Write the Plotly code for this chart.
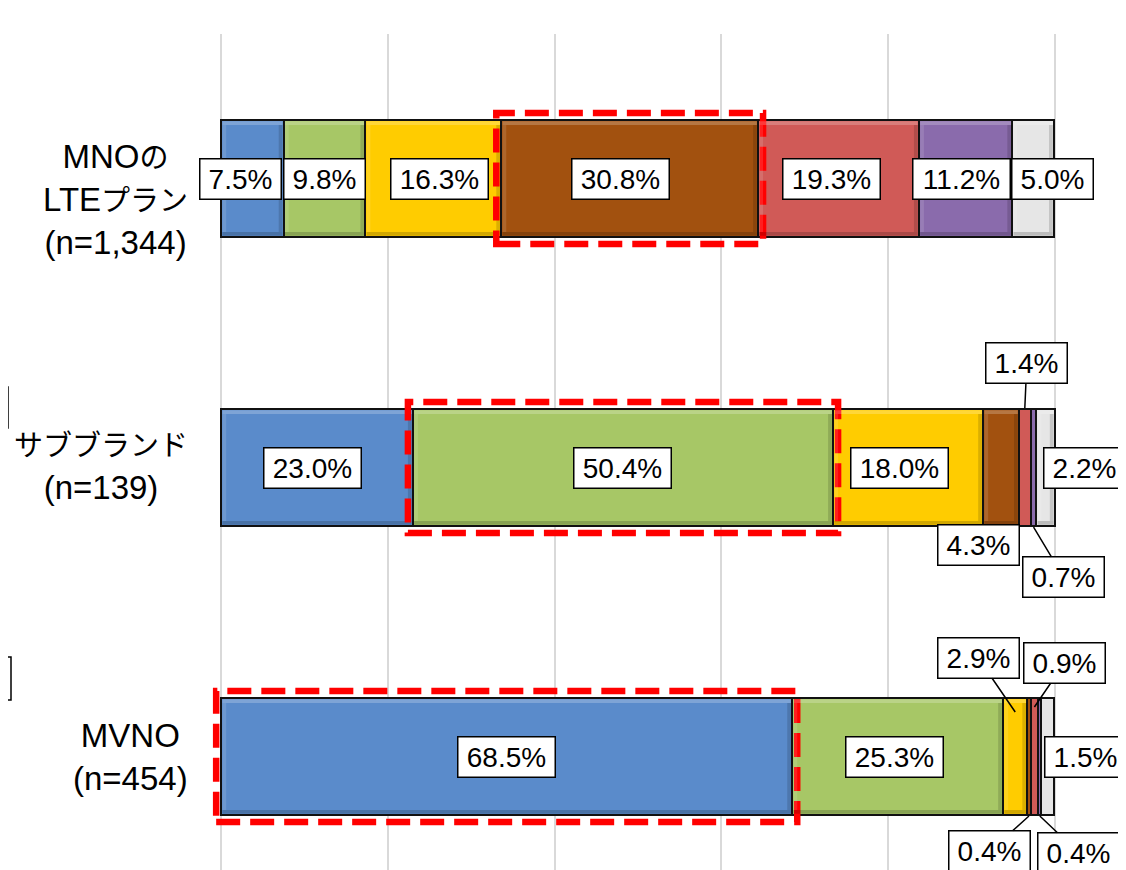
import plotly.graph_objects as go

# ---------------- data ----------------
categories = [
    "MNO<span style='font-size:29px'>の</span><br>LTE<span style='font-size:29px'>プラン</span><br>(n=1,344)",
    "<span style='font-size:29px'>サブブランド</span><br>(n=139)",
    "MVNO<br>(n=454)",
]
series_names = ["区分1", "区分2", "区分3", "区分4", "区分5", "区分6", "区分7"]
mno_lte = [7.5, 9.8, 16.3, 30.8, 19.3, 11.2, 5.0]
sub_brand = [23.0, 50.4, 18.0, 4.3, 1.4, 0.7, 2.2]
mvno = [68.5, 25.3, 2.9, 0.4, 0.9, 0.4, 1.5]
rows = [mno_lte, sub_brand, mvno]
highlight_index = [3, 1, 0]   # segment framed by red dashed box in each row

# ---------------- style ----------------
colors = ["#5A8BCB", "#A7C766", "#FFCC00", "#A2510F", "#D05A57", "#8A6BAC", "#E6E6E6"]
FONT_LAT = "Liberation Sans, Arial, Noto Sans CJK JP, sans-serif"
FONT_CAT = "Liberation Sans, Arial, Noto Sans CJK JP, sans-serif"
W, H = 1118, 862          # page body has an 8px margin
X_LO, X_HI = -0.5, 100.5
ML, MR, MT, MB = 209, 67, 26, 0
BAR_W = 0.405
PX_PER_CAT = 289.0
Y_TOP = -0.5
Y_BOT = Y_TOP + (H - MT - MB) / PX_PER_CAT
PX_PER_PCT = (W - ML - MR) / (X_HI - X_LO)

# label placement per row/segment: (dx, dy_down, arrow, ax, ay, target_dy_px)
label_style = [
    [(-12, 0, False, 0, 0, 0), (0, 0, False, 0, 0, 0), (6, 0, False, 0, 0, 0),
     (-9, 0, False, 0, 0, 0), (-7, 0, False, 0, 0, 0), (-4, 0, False, 0, 0, 0),
     (19, 0, False, 0, 0, 0)],
    [(-5, 0, False, 0, 0, 0), (0, 0, False, 0, 0, 0), (-9, 0, False, 0, 0, 0),
     (-23, 77, False, 0, 0, 0), (0, 0, True, 2, -45, -1), (0, 0, True, 30, 50, 1),
     (39, 0, False, 0, 0, 0)],
    [(0, 0, False, 0, 0, 0), (-3, 0, False, 0, 0, 0), (0, 0, True, -37, -54, 14),
     (0, 0, True, -39, 35, 1), (0, 0, True, 30, -44, 9), (0, 0, True, 39, 37, 1),
     (38, 0, False, 0, 0, 0)],
]

fig = go.Figure()
for j, name in enumerate(series_names):
    fig.add_trace(go.Bar(
        name=name,
        orientation="h",
        x=[r[j] for r in rows],
        y=[0, 1, 2],
        width=BAR_W,
        marker=dict(color=colors[j], line=dict(color="#111111", width=2)),
        hoverinfo="x+name",
    ))

annotations = []
shapes = []


def paper_x(v):
    return (v - X_LO) / (X_HI - X_LO)


def paper_y(v):
    return (Y_BOT - v) / (Y_BOT - Y_TOP)


BEV = 5.0
for i, r in enumerate(rows):
    cum = 0.0
    for j, v in enumerate(r):
        center = cum + v / 2.0
        # bevel effect (light top/left, dark bottom/right)
        x0, x1 = cum, cum + v
        yt, yb = i - BAR_W / 2, i + BAR_W / 2
        ins_x = 1.2 / PX_PER_PCT
        ins_y = 1.2 / PX_PER_CAT
        bx = BEV / PX_PER_PCT
        by = BEV / PX_PER_CAT
        if v * PX_PER_PCT > 14:
            shapes.append(dict(type="rect", xref="x", yref="y", layer="above",
                               x0=x0 + ins_x, x1=x1 - ins_x, y0=yt + ins_y, y1=yt + by,
                               fillcolor="rgba(255,255,255,0.22)", line=dict(width=0)))
            shapes.append(dict(type="rect", xref="x", yref="y", layer="above",
                               x0=x0 + ins_x, x1=x1 - ins_x, y0=yb - by, y1=yb - ins_y,
                               fillcolor="rgba(0,0,0,0.18)", line=dict(width=0)))
            shapes.append(dict(type="rect", xref="x", yref="y", layer="above",
                               x0=x0 + ins_x, x1=x0 + bx, y0=yt + by, y1=yb - by,
                               fillcolor="rgba(255,255,255,0.12)", line=dict(width=0)))
            shapes.append(dict(type="rect", xref="x", yref="y", layer="above",
                               x0=x1 - bx, x1=x1 - ins_x, y0=yt + by, y1=yb - by,
                               fillcolor="rgba(0,0,0,0.14)", line=dict(width=0)))

        dx, dy, arrow, ax, ay, tdy = label_style[i][j]
        txt = f"{v:.1f}%"
        wbox = 74 if len(txt) == 4 else 90
        common = dict(
            text=txt, xref="x", yref="y",
            font=dict(family=FONT_LAT, size=28, color="#000000"),
            bgcolor="#FFFFFF", bordercolor="#000000", borderwidth=1.5,
            borderpad=3, width=wbox, height=33, align="center",
        )
        if arrow:
            edge = i - BAR_W / 2 if ay < 0 else i + BAR_W / 2
            ty = edge + tdy / PX_PER_CAT
            annotations.append(dict(
                x=center, y=ty, showarrow=True, arrowhead=0, arrowwidth=1.5,
                arrowcolor="#000000", ax=ax, ay=ay, standoff=0, **common))
        else:
            annotations.append(dict(
                x=center, y=i, showarrow=False, xshift=dx, yshift=-dy, **common))
        if j == highlight_index[i]:
            padx = 5 / PX_PER_PCT
            pady = 7 / PX_PER_CAT
            shapes.append(dict(
                type="rect", xref="paper", yref="paper",
                x0=paper_x(cum - padx), x1=paper_x(cum + v + padx),
                y0=paper_y(i + BAR_W / 2 + pady), y1=paper_y(i - BAR_W / 2 - pady),
                line=dict(color="#FF0000", width=6.5, dash="24px,10px"),
                fillcolor="rgba(0,0,0,0)", layer="above"))
        cum += v

# category labels
cat_yshift = [-21, 0, 0]
for i, c in enumerate(categories):
    annotations.append(dict(
        text=c, xref="x", yref="y", x=0, y=i, xanchor="right", yanchor="middle",
        xshift=-31, yshift=cat_yshift[i], showarrow=False, align="center",
        font=dict(family=FONT_CAT, size=33, color="#000000")))


# cut-off boxes at the left edge (partially outside the picture)
def px_x(px):
    return (px - 8 - ML) / (W - ML - MR)


def px_y(py):
    return (H - MB - (py - 8)) / (H - MT - MB)


for (y0p, y1p, x1p) in [(387, 428, 8), (657, 700, 11)]:
    shapes.append(dict(
        type="rect", xref="paper", yref="paper",
        x0=px_x(-60), x1=px_x(x1p), y0=px_y(y1p), y1=px_y(y0p),
        line=dict(color="#000000", width=1.5), fillcolor="#FFFFFF", layer="above"))

fig.update_layout(
    width=W, height=H,
    margin=dict(l=ML, r=MR, t=MT, b=MB, pad=0),
    barmode="stack",
    bargap=0,
    showlegend=False,
    plot_bgcolor="#FFFFFF",
    paper_bgcolor="#FFFFFF",
    xaxis=dict(range=[X_LO, X_HI], dtick=20, tick0=0, showgrid=True,
               gridcolor="#D9D9D9", gridwidth=2, zeroline=False,
               showticklabels=False, showline=False, ticks=""),
    yaxis=dict(range=[Y_BOT, Y_TOP], showgrid=False, zeroline=False,
               showticklabels=False, showline=False, ticks=""),
    annotations=annotations,
    shapes=shapes,
)

fig.write_html("out.html")
